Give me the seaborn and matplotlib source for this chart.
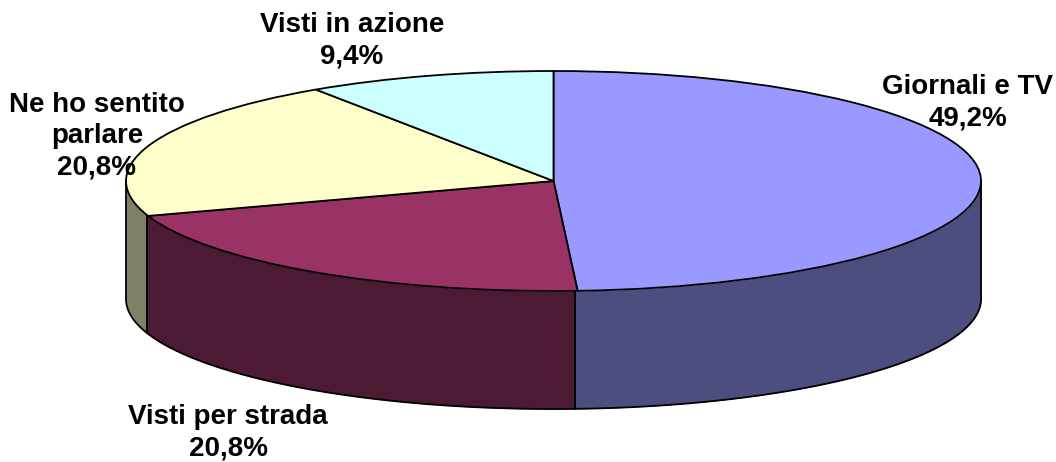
import numpy as np
import pandas as pd
import seaborn as sns
import matplotlib
matplotlib.use("Agg")
import matplotlib.pyplot as plt

labels = ["Giornali e TV", "Visti per strada", "Ne ho sentito\nparlare", "Visti in azione"]
shares = [49.2, 20.8, 20.8, 9.4]
top_colors = ["#9999FF", "#993366", "#FFFFCC", "#CCFFFF"]
side_colors = ["#4D4D80", "#4D1A33", "#808066", "#668080"]

sns.set_theme(style="white")
plt.rcParams["font.family"] = ["Liberation Sans", "DejaVu Sans"]

W, H = 1056, 462
CX, CY = 553.5, 181      # pie centre in pixels
RX, RY = 427.5, 110      # ellipse radii in pixels
DEPTH = 118 / RY
LW = 1.3

df = pd.DataFrame({"label": labels, "share": shares})
df["end"] = 90 - df["share"].cumsum() * 3.6
df["start"] = df["end"] + df["share"] * 3.6

fig = plt.figure(figsize=(W / 100, H / 100), dpi=100)
ax = fig.add_axes([0, 0, 1, 1])

# side walls first, only the front half of the rim shows
for i, row in df.iterrows():
    a0 = max(row["end"], -180)
    a1 = min(row["start"], 0)
    if a1 <= a0:
        # last slices wrap past -180, nothing visible
        continue
    t = np.radians(np.linspace(a0, a1, 120))
    x = np.cos(t)
    y = np.sin(t)
    ax.fill_between(x, y - DEPTH, y, color=side_colors[i], lw=0, zorder=1)
    ax.plot(x, y - DEPTH, color="black", lw=LW, zorder=2)
    ax.plot([x[0], x[0]], [y[0], y[0] - DEPTH], color="black", lw=LW, zorder=2)
    ax.plot([x[-1], x[-1]], [y[-1], y[-1] - DEPTH], color="black", lw=LW, zorder=2)

ax.pie(df["share"], colors=top_colors, startangle=90, counterclock=False, radius=1,
       wedgeprops={"edgecolor": "black", "linewidth": LW, "zorder": 3})

ax.set_aspect("auto")
ax.set_xlim(-CX / RX, (W - CX) / RX)
ax.set_ylim((CY - H) / RY, CY / RY)
ax.axis("off")

# label anchors in pixels
anchors = [(968, 103), (228, 433), (97, 136), (352, 41)]
for i, row in df.iterrows():
    txt = row["label"] + "\n" + f"{row['share']:.1f}%".replace(".", ",")
    px, py = anchors[i]
    ax.text(px / W, 1 - py / H, txt, transform=ax.transAxes, ha="center", va="center",
            fontsize=20, fontweight="bold", color="black", linespacing=1.27, zorder=5)

fig.savefig("out.png", dpi=100)
